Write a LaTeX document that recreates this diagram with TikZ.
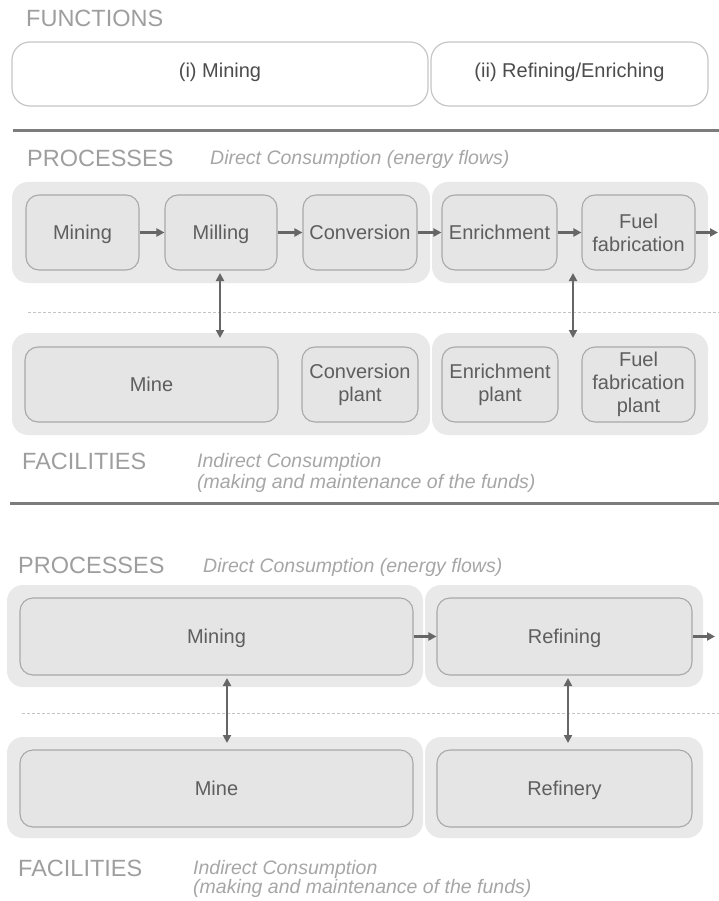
\documentclass[tikz,border=0pt]{standalone}
\usepackage{fontspec}
\setmainfont{Liberation Sans}
\usetikzlibrary{arrows.meta}

\definecolor{grpfill}{HTML}{E9E9E9}
\definecolor{boxfill}{HTML}{E5E5E5}
\definecolor{boxline}{HTML}{A9A9A9}
\definecolor{boxtext}{HTML}{5E5E5E}
\definecolor{funline}{HTML}{C6C6C6}
\definecolor{funtext}{HTML}{4C4C4C}
\definecolor{headc}{HTML}{9E9E9E}
\definecolor{notec}{HTML}{A6A6A6}
\definecolor{arrowc}{HTML}{666666}
\definecolor{rulec}{HTML}{7C7C7C}
\definecolor{dashc}{HTML}{C4C4C4}

\tikzset{
  grp/.style={fill=grpfill, rounded corners=16pt, inner sep=0pt},
  stage/.style={draw=boxline, fill=boxfill, line width=1.1pt, rounded corners=13pt,
    inner sep=0pt, align=center, text=boxtext, minimum height=75pt,
    font=\fontsize{20}{23}\selectfont},
  % single-line labels: centre the capitals in the box
  oneline/.style={text height=14.3pt, text depth=0pt},
  func/.style={draw=funline, fill=white, line width=1.2pt, rounded corners=18pt,
    inner sep=0pt, minimum height=64pt, text=funtext,
    text height=14.3pt, text depth=8pt,
    font=\fontsize{20}{23}\selectfont},
  head/.style={anchor=base west, inner sep=0pt, text=headc,
    font=\fontsize{23.5}{26}\selectfont},
  note/.style={anchor=base west, inner sep=0pt, text=notec,
    font=\fontsize{19.5}{21}\selectfont\itshape},
  rule/.style={draw=rulec, line width=3pt},
  divider/.style={draw=dashc, line width=1pt, dash pattern=on 3pt off 2pt},
  flow/.style={draw=arrowc, line width=2.2pt, -{Triangle[length=8pt,width=8pt]}},
  link/.style={draw=arrowc, line width=2.2pt,
    {Triangle[length=8pt,width=8pt]}-{Triangle[length=8pt,width=8pt]}},
}

\begin{document}
\begin{tikzpicture}[x=1pt,y=-1pt]
\useasboundingbox (0,0) rectangle (719,901);

% ---------- functions ----------
\node[head] (hfun) at (26,27) {FUNCTIONS};
\node[func, minimum width=416pt] (fun1) at (220,74) {(i) Mining};
\node[func, minimum width=277pt] (fun2) at (569.5,74) {(ii) Refining/Enriching};
\coordinate (r1a) at (13,131);
\coordinate (r1b) at (719,131);
\draw[rule] (r1a) -- (r1b);

% ---------- first chain: processes ----------
\node[head] (hproc1) at (27,166.5) {PROCESSES};
\node[note] (nproc1) at (210,165) {Direct Consumption (energy flows)};

\node[grp, minimum width=418pt, minimum height=101pt] (pgL) at (221,232.5) {};
\node[grp, minimum width=276pt, minimum height=101pt] (pgR) at (570,232.5) {};

\node[stage, oneline, minimum width=113pt] (mining) at (82.5,232.5) {Mining};
\node[stage, oneline, minimum width=112pt] (milling) at (221,232.5) {Milling};
\node[stage, oneline, minimum width=114pt] (conversion) at (360,232.5) {Conversion};
\node[stage, oneline, minimum width=115pt] (enrichment) at (499.5,232.5) {Enrichment};
\node[stage, minimum width=113pt] (fuel) at (638.5,232.5) {Fuel\\fabrication};
\coordinate (out1) at (718,232.5);

\draw[flow] (mining) -- (milling);
\draw[flow] (milling) -- (conversion);
\draw[flow] (conversion) -- (enrichment);
\draw[flow] (enrichment) -- (fuel);
\draw[flow] (fuel) -- (out1);

\coordinate (d1a) at (28,312);
\coordinate (d1b) at (719,312);
\draw[divider] (d1a) -- (d1b);

% ---------- first chain: facilities ----------
\node[grp, minimum width=418pt, minimum height=102pt] (fgL) at (221,384) {};
\node[grp, minimum width=276pt, minimum height=102pt] (fgR) at (570,384) {};

\node[stage, oneline, minimum width=253pt] (mine) at (151.5,384.5) {Mine};
\node[stage, minimum width=116pt] (convplant) at (360,384.5) {Conversion\\plant};
\node[stage, minimum width=116pt] (enrplant) at (500,384.5) {Enrichment\\plant};
\node[stage, minimum width=113pt] (fuelplant) at (638.5,384.5) {Fuel\\fabrication\\plant};

\coordinate (u1a) at (220,273);
\coordinate (u1b) at (220,338);
\draw[link] (u1a) -- (u1b);
\coordinate (u2a) at (573,273);
\coordinate (u2b) at (573,338);
\draw[link] (u2a) -- (u2b);

\node[head] (hfac1) at (22,469) {FACILITIES};
\node[note] (nfac1a) at (197,467) {Indirect Consumption};
\node[note] (nfac1b) at (197,488) {(making and maintenance of the funds)};

\coordinate (r2a) at (10,503);
\coordinate (r2b) at (719,503);
\draw[rule] (r2a) -- (r2b);

% ---------- second chain: processes ----------
\node[head] (hproc2) at (18,573) {PROCESSES};
\node[note] (nproc2) at (203,572) {Direct Consumption (energy flows)};

\node[grp, minimum width=416pt, minimum height=102pt] (pg2L) at (215,636) {};
\node[grp, minimum width=278pt, minimum height=102pt] (pg2R) at (564,636) {};

\node[stage, oneline, minimum width=393pt, minimum height=77pt] (mining2) at (216.5,636.5) {Mining};
\node[stage, oneline, minimum width=255pt, minimum height=77pt] (refining) at (564.5,636.5) {Refining};
\coordinate (out2) at (715,636.5);

\draw[flow] (mining2) -- (refining);
\draw[flow] (refining) -- (out2);

\coordinate (d2a) at (22,713);
\coordinate (d2b) at (719,713);
\draw[divider] (d2a) -- (d2b);

% ---------- second chain: facilities ----------
\node[grp, minimum width=416pt, minimum height=101pt] (fg2L) at (215,787.5) {};
\node[grp, minimum width=278pt, minimum height=101pt] (fg2R) at (564,787.5) {};

\node[stage, oneline, minimum width=393pt, minimum height=77pt] (mine2) at (216.5,788.5) {Mine};
\node[stage, oneline, minimum width=255pt, minimum height=77pt] (refinery) at (564.5,788.5) {Refinery};

\coordinate (v1a) at (227,678);
\coordinate (v1b) at (227,743);
\draw[link] (v1a) -- (v1b);
\coordinate (v2a) at (568,678);
\coordinate (v2b) at (568,743);
\draw[link] (v2a) -- (v2b);

\node[head] (hfac2) at (18,876) {FACILITIES};
\node[note] (nfac2a) at (193,874) {Indirect Consumption};
\node[note] (nfac2b) at (193,893) {(making and maintenance of the funds)};
\end{tikzpicture}
\end{document}
